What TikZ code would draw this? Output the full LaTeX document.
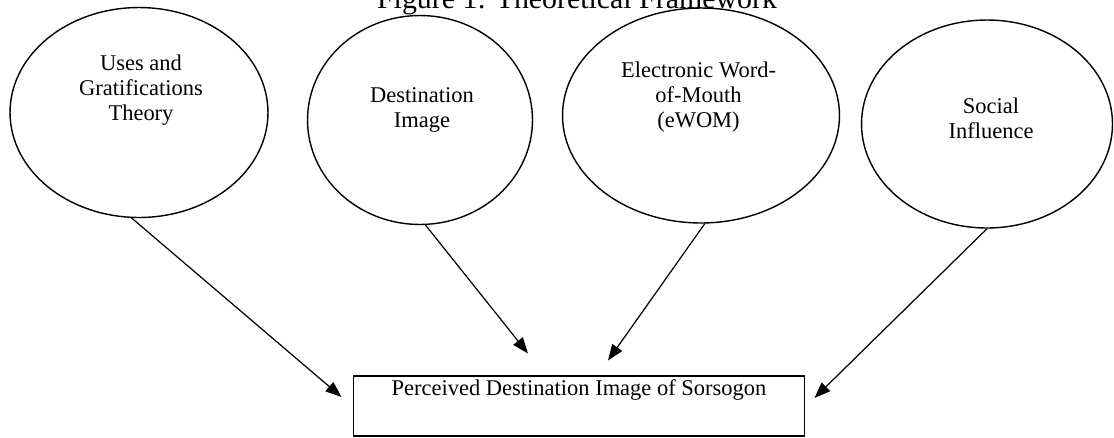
\documentclass[tikz,border=0pt]{standalone}
\usepackage{fontspec}
\setmainfont{Liberation Serif}
\usetikzlibrary{shapes.geometric,arrows.meta}
\tikzset{
  oval/.style={draw, ellipse, line width=0.8pt, inner sep=0pt},
  lbl/.style={align=center, font=\fontsize{12.8}{14.2}\selectfont},
  outcome/.style={draw, line width=0.6pt, inner sep=0pt, minimum width=9.04cm,
    text height=0.38cm, text depth=0.82cm, font=\fontsize{12.8}{14.2}\selectfont},
  link/.style={-{Triangle[length=0.32cm, width=0.24cm]}, line width=0.7pt},
}
\begin{document}
\begin{tikzpicture}[x=0.02cm, y=-0.02cm]
  \useasboundingbox (0,0) rectangle (1114,437);
  \node[anchor=base, font=\fontsize{17}{20}\selectfont] (title) at (577,8) {Figure 1: Theoretical Framework};

  % theories and constructs
  \node[oval, minimum width=5.16cm, minimum height=4.2cm] (ugt) at (139,112.5) {};
  \node[lbl] (ugtText) at (141,90) {Uses and\\Gratifications\\Theory};
  \node[oval, minimum width=4.5cm, minimum height=4.18cm] (di) at (420,120) {};
  \node[lbl] (diText) at (422,110) {Destination\\Image};
  \node[oval, minimum width=5.54cm, minimum height=4.3cm] (ewom) at (701,115.5) {};
  \node[lbl] (ewomText) at (698.5,97) {Electronic Word-\\of-Mouth\\(eWOM)};
  \node[oval, minimum width=5.02cm, minimum height=4.16cm] (si) at (987,124) {};
  \node[lbl] (siText) at (991,118) {Social\\Influence};

  % outcome
  \node[outcome] (pdis) at (579,406) {Perceived Destination Image of Sorsogon};

  \draw[link] (ugt.266) -- ([shift={(-11,-9)}]pdis.west);
  \draw[link] (di.273) -- ([shift={(-51,-22)}]pdis.north);
  \draw[link] (ewom.272) -- ([shift={(29,-15)}]pdis.north);
  \draw[link] (si.south) -- ([shift={(9,-8)}]pdis.east);
\end{tikzpicture}
\end{document}
